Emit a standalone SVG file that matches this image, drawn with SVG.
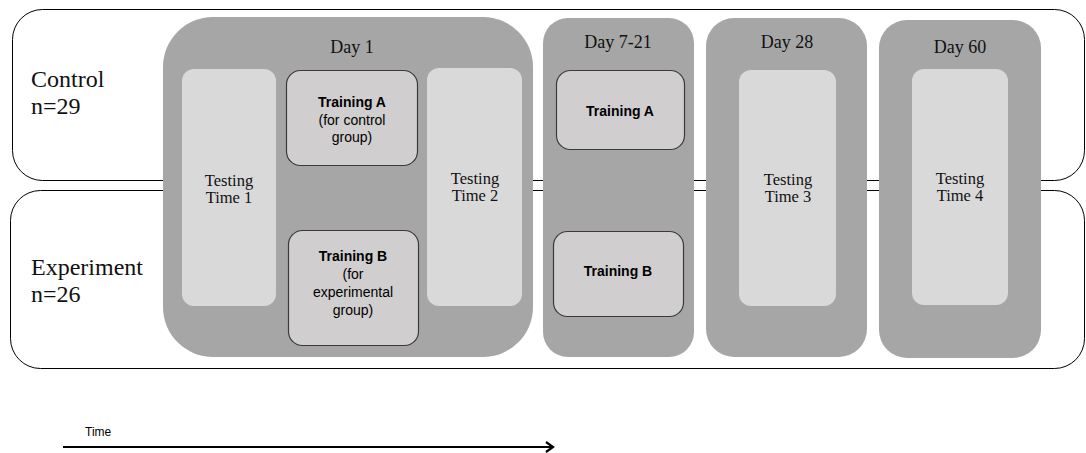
<svg xmlns="http://www.w3.org/2000/svg" width="1086" height="453" viewBox="0 0 1086 453">
<style>
.grp{fill:#fff;stroke:#000;stroke-width:1}
.day{fill:#a6a6a6}
.test{fill:#d9d9d9}
.train{fill:#d0cece;stroke:#3a3a3a;stroke-width:1.2}
.serif{font-family:"Liberation Serif",serif;fill:#111}
.sans{font-family:"Liberation Sans",Arial,sans-serif;fill:#000}
.lbl{font-size:24px}
.dayt{font-size:18px;text-anchor:middle}
.tt{font-size:16.5px;text-anchor:middle}
.b{font-size:14px;font-weight:bold;text-anchor:middle}
.n{font-size:14px;text-anchor:middle}
</style>
<defs>
<marker id="ah" markerWidth="12" markerHeight="12" refX="9" refY="6" orient="auto" markerUnits="userSpaceOnUse">
<path d="M2,1 L9,6 L2,11" fill="none" stroke="#000" stroke-width="2.2"/>
</marker>
</defs>
<g id="control"><rect class="grp" x="12.5" y="9.5" width="1072" height="171" rx="30"/>
<text class="serif lbl" x="31" y="87">Control</text><text class="serif lbl" x="31" y="114">n=29</text></g>
<g id="experiment"><rect class="grp" x="10.5" y="190.5" width="1074" height="178" rx="30"/>
<text class="serif lbl" x="31" y="275">Experiment</text><text class="serif lbl" x="31" y="302">n=26</text></g>
<g id="day1"><rect class="day" x="163" y="17" width="370" height="340" rx="50"/>
<text class="serif dayt" x="352" y="53">Day 1</text></g>
<g id="day7"><rect class="day" x="543" y="18" width="151" height="339" rx="25"/>
<text class="serif dayt" x="618" y="48">Day 7-21</text></g>
<g id="day28"><rect class="day" x="706" y="18" width="161" height="339" rx="28"/>
<text class="serif dayt" x="787" y="48">Day 28</text></g>
<g id="day60"><rect class="day" x="879" y="20" width="162" height="338" rx="28"/>
<text class="serif dayt" x="960" y="53">Day 60</text></g>
<g id="test1"><rect class="test" x="182" y="69" width="94" height="237" rx="12"/>
<text class="serif tt" x="229" y="186">Testing</text><text class="serif tt" x="229" y="203">Time 1</text></g>
<g id="trainA1"><rect class="train" x="286.5" y="70.5" width="131" height="95" rx="14"/>
<text class="sans b" x="352" y="107">Training A</text><text class="sans n" x="352" y="125">(for control</text><text class="sans n" x="352" y="142">group)</text></g>
<g id="test2"><rect class="test" x="427" y="68" width="95" height="238" rx="12"/>
<text class="serif tt" x="475" y="184">Testing</text><text class="serif tt" x="475" y="201">Time 2</text></g>
<g id="trainB1"><rect class="train" x="288.5" y="230.5" width="130" height="115" rx="14"/>
<text class="sans b" x="353" y="261">Training B</text><text class="sans n" x="353" y="279">(for</text><text class="sans n" x="353" y="297">experimental</text><text class="sans n" x="353" y="315">group)</text></g>
<g id="trainA2"><rect class="train" x="556.5" y="70.5" width="128" height="79" rx="14"/>
<text class="sans b" x="620" y="116">Training A</text></g>
<g id="trainB2"><rect class="train" x="553.5" y="231.5" width="130" height="85" rx="14"/>
<text class="sans b" x="618" y="276">Training B</text></g>
<g id="test3"><rect class="test" x="739" y="70" width="97" height="236" rx="12"/>
<text class="serif tt" x="788" y="185">Testing</text><text class="serif tt" x="788" y="202">Time 3</text></g>
<g id="test4"><rect class="test" x="912" y="69" width="96" height="236" rx="12"/>
<text class="serif tt" x="960" y="184">Testing</text><text class="serif tt" x="960" y="201">Time 4</text></g>
<g id="connectors">
<line x1="63" y1="447" x2="553" y2="447" stroke="#000" stroke-width="2.2" marker-end="url(#ah)"/>
</g>
<text class="sans" x="85" y="436" font-size="12">Time</text>
</svg>
